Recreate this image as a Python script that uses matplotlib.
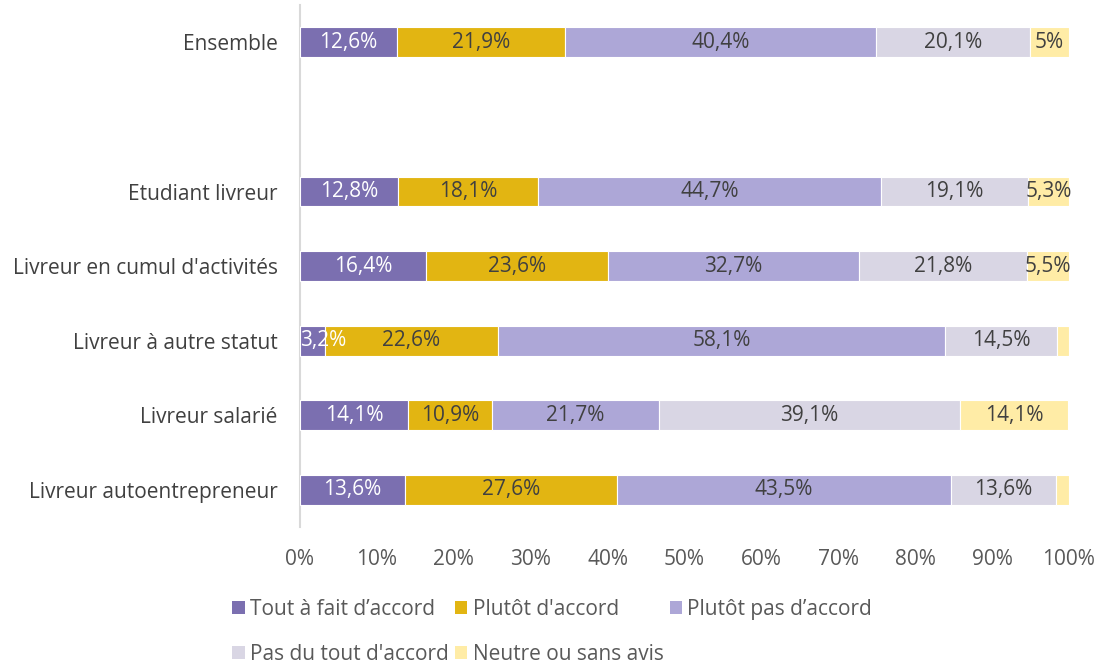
import numpy as np
import matplotlib.pyplot as plt
from matplotlib.patches import Patch

plt.rcParams['font.family'] = ['Open Sans', 'DejaVu Sans']

# Données (en %)
categories = ["Ensemble", "", "Etudiant livreur", "Livreur en cumul d'activités",
              "Livreur à autre statut", "Livreur salarié", "Livreur autoentrepreneur"]
tout_a_fait = [12.6, 0, 12.8, 16.4, 3.2, 14.1, 13.6]
plutot_accord = [21.9, 0, 18.1, 23.6, 22.6, 10.9, 27.6]
plutot_pas = [40.4, 0, 44.7, 32.7, 58.1, 21.7, 43.5]
pas_du_tout = [20.1, 0, 19.1, 21.8, 14.5, 39.1, 13.6]
neutre = [5.0, 0, 5.3, 5.5, 1.6, 14.1, 1.7]

etiquettes_neutre = ["5%", "", "5,3%", "5,5%", "", "14,1%", ""]

series = [
    ("Tout à fait d’accord", tout_a_fait, "#7B6FB0", "white"),
    ("Plutôt d'accord", plutot_accord, "#E2B512", "#404040"),
    ("Plutôt pas d’accord", plutot_pas, "#ADA7D7", "#404040"),
    ("Pas du tout d'accord", pas_du_tout, "#D9D6E4", "#404040"),
    ("Neutre ou sans avis", neutre, "#FFECA6", "#404040"),
]

fs = 15

fig = plt.figure(figsize=(11.04, 6.69), dpi=100)
ax = fig.add_axes([0.2717, 0.212, 0.6965, 0.7805])

y = np.arange(len(categories))
left = np.zeros(len(categories))
handles = []
for k, (nom, vals, col, tcol) in enumerate(series):
    vals = np.array(vals)
    mask = vals > 0
    ax.barh(y[mask], vals[mask], left=left[mask], height=0.4, color=col,
            edgecolor="white", linewidth=0.8)
    for i in np.where(mask)[0]:
        if k == 4:
            txt = etiquettes_neutre[i]
        else:
            txt = ("%.1f%%" % vals[i]).replace(".", ",")
        if not txt:
            continue
        if left[i] == 0 and vals[i] < 5:
            # petite barre : étiquette calée sur le bord gauche
            ax.text(0, y[i], txt, ha="left", va="center", fontsize=fs, color=tcol)
        else:
            ax.text(left[i] + vals[i] / 2, y[i], txt, ha="center", va="center",
                    fontsize=fs, color=tcol)
    left = left + vals
    handles.append(Patch(facecolor=col, label=nom))

ax.set_xlim(0, 100)
ax.set_ylim(6.5, -0.5)
ax.set_yticks(y)
ax.set_yticklabels(categories, fontsize=fs, color="#404040")
ax.set_xticks(np.arange(0, 101, 10))
ax.set_xticklabels(["%d%%" % v for v in range(0, 101, 10)], fontsize=fs, color="#595959")
ax.tick_params(axis="both", length=0)
ax.tick_params(axis="x", pad=16)
ax.tick_params(axis="y", pad=16)
for s in ["top", "right", "bottom"]:
    ax.spines[s].set_visible(False)
ax.spines["left"].set_color("#D9D9D9")
ax.spines["left"].set_linewidth(1.5)
ax.spines["left"].set_zorder(0)

ordre = [0, 3, 1, 4, 2]
fig.legend([handles[i] for i in ordre], [handles[i].get_label() for i in ordre],
           loc="lower left", bbox_to_anchor=(228 / 1104, 0.0), borderaxespad=0,
           borderpad=0.2, ncol=3, frameon=False,
           fontsize=fs, handlelength=0.6, handleheight=0.6, handletextpad=0.25,
           columnspacing=0.3, labelspacing=1.15, labelcolor="#595959")

fig.savefig("out.png", dpi=100)
